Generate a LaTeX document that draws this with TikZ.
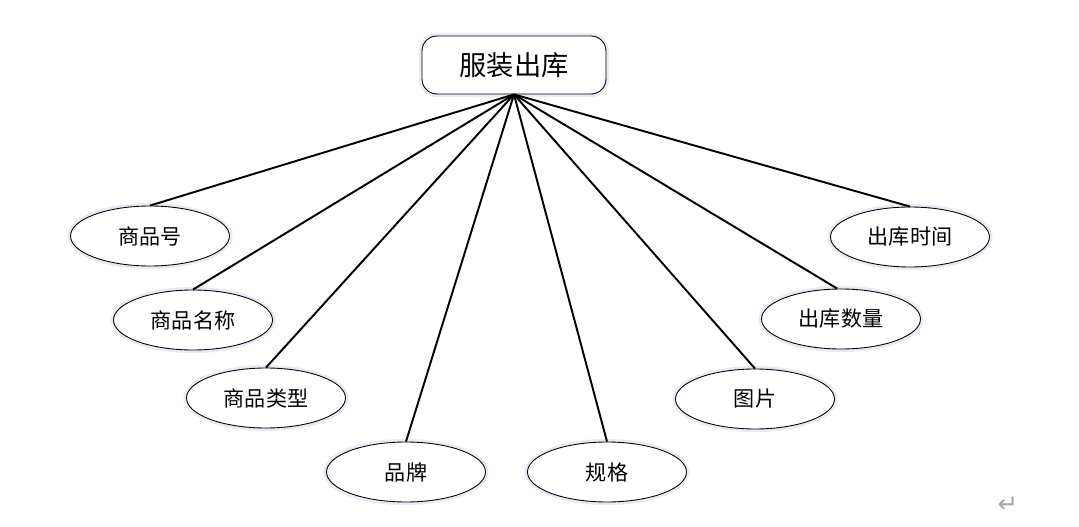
\documentclass[tikz,border=0pt]{standalone}
\usepackage{fontspec}
\setmainfont{Liberation Serif}
\newfontfamily\cjk{Noto Sans CJK SC}
\newfontfamily\symfont{DejaVu Sans}
\usepackage{xcolor}
\usepackage{tikz}
\usetikzlibrary{positioning, shapes.geometric, shapes.misc}

\begin{document}
\begin{tikzpicture}[
    x=0.02cm, y=-0.02cm,
    every node/.style={font=\cjk},
    glow/.style={preaction={draw=cyan!6!blue!7, line width=3.5pt}},
    entity/.style={glow, draw, rounded corners=0.3cm, minimum width=3.68cm, minimum height=1.16cm, font=\cjk\fontsize{15.5}{18}\selectfont, line width=0.5pt, fill=white},
    attr/.style={glow, ellipse, draw, minimum width=3.18cm, minimum height=1.2cm, font=\cjk\fontsize{12}{14}\selectfont, line width=0.5pt, fill=white},
    link/.style={line width=1.1pt}
]
\useasboundingbox (0,0) rectangle (1079,527);

% Entity
\node[entity] (out) at (514,65) {服装出库};

% Attributes
\node[attr] (num)   at (150,236) {商品号};
\node[attr] (name)  at (193,320) {商品名称};
\node[attr] (type)  at (266,398) {商品类型};
\node[attr] (brand) at (406,472) {品牌};
\node[attr] (spec)  at (607,472) {规格};
\node[attr] (pic)   at (755,399) {图片};
\node[attr] (qty)   at (841,319) {出库数量};
\node[attr] (time)  at (910,237) {出库时间};

% Connections
\foreach \a in {num,name,type,brand,spec,pic,time}
  \draw[link] (out.south) -- (\a.north);
\draw[link] (out.south) -- (qty.97);

% paragraph mark
\node[text=gray!70, font=\symfont\fontsize{14}{16}\selectfont] (pmark) at (1008,505) {↵};

\end{tikzpicture}
\end{document}
